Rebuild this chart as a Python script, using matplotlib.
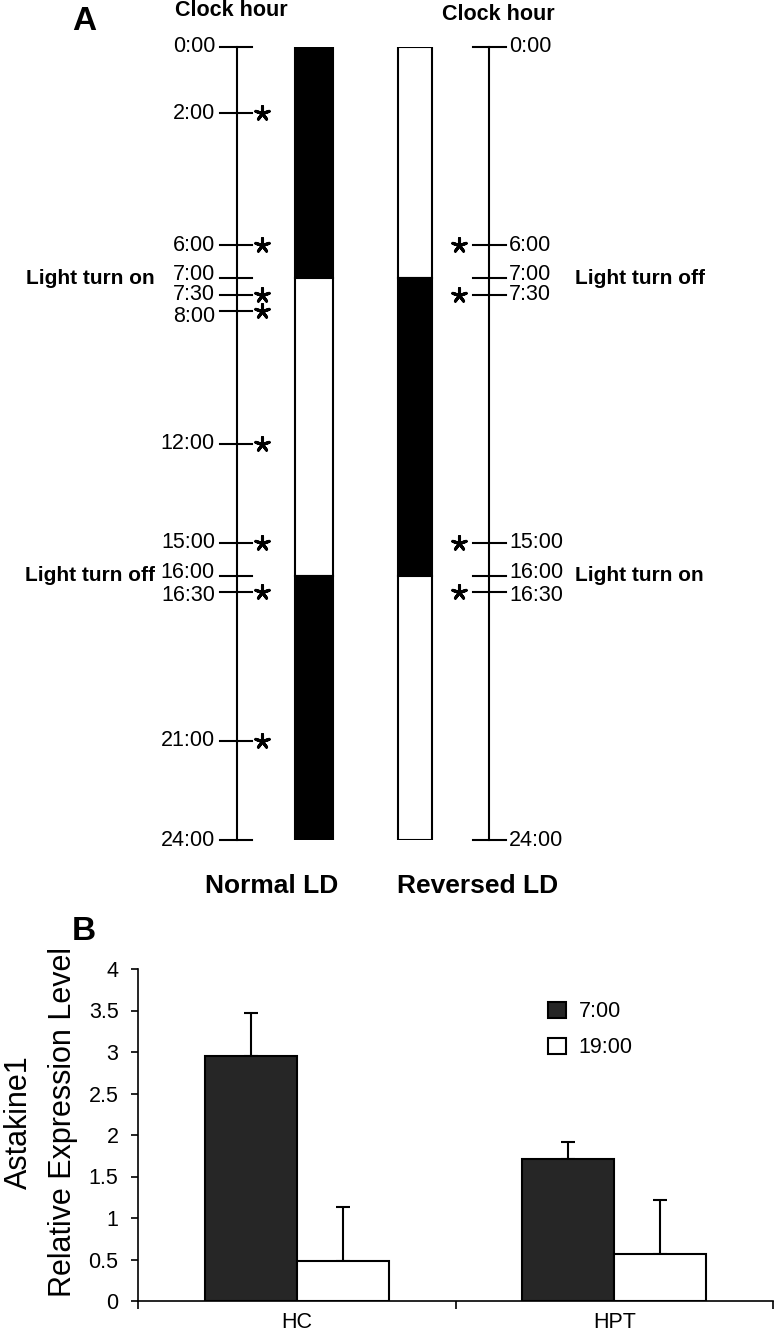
import matplotlib
matplotlib.use('Agg')
import matplotlib.pyplot as plt
from matplotlib.patches import Patch

plt.rcParams['font.family'] = ['Liberation Sans', 'DejaVu Sans']

# panel A: sampling times on the two light/dark schedules (clock hours)
normal_ticks = [0, 2, 6, 7, 7.5, 8, 12, 15, 16, 16.5, 21, 24]
normal_labels = ['0:00', '2:00', '6:00', '7:00', '7:30', '8:00', '12:00',
                 '15:00', '16:00', '16:30', '21:00', '24:00']
normal_sampled = [2, 6, 7.5, 8, 12, 15, 16.5, 21]

reversed_ticks = [0, 6, 7, 7.5, 15, 16, 16.5, 24]
reversed_labels = ['0:00', '6:00', '7:00', '7:30', '15:00', '16:00', '16:30', '24:00']
reversed_sampled = [6, 7.5, 15, 16.5]

# (start, end, dark?)
normal_phases = [(0, 7, True), (7, 16, False), (16, 24, True)]
reversed_phases = [(0, 7, False), (7, 16, True), (16, 24, False)]

# panel B: Astakine1 relative expression
groups = ['HC', 'HPT']
series_names = ['7:00', '19:00']
expr_700 = [2.95, 1.71]
err_700 = [0.52, 0.20]
expr_1900 = [0.48, 0.57]
err_1900 = [0.65, 0.65]

W, H = 774, 1336
fig = plt.figure(figsize=(W / 100, H / 100), dpi=100)


def fx(x):
    return x / W


def fy(y):
    return 1 - y / H


FS = 15.5
FSB = 15.5
star = (5, 2, 0)  # asterisk marker

# crowded labels are pushed a little apart, like in the original schematic
nudge = {7: -0.12, 8: 0.15, 16: -0.1, 16.5: 0.1}

# ---------------- panel A ----------------
top_px, bot_px = 47, 840
axA = fig.add_axes([0, fy(bot_px), 1, (bot_px - top_px) / H])
axA.set_xlim(0, W)
axA.set_ylim(24, 0)
axA.axis('off')

# left clock axis
axA.plot([237, 237], [0, 24], color='black', lw=1.5, clip_on=False)
for h, lab in zip(normal_ticks, normal_labels):
    axA.plot([220, 252], [h, h], color='black', lw=1.5, clip_on=False)
    axA.text(215, h + nudge.get(h, 0), lab, ha='right', va='center',
             fontsize=FS, clip_on=False)
axA.scatter([262] * len(normal_sampled), normal_sampled, marker=star, s=100,
            color='black', linewidths=2.2, clip_on=False)

# right clock axis
axA.plot([489, 489], [0, 24], color='black', lw=1.5, clip_on=False)
for h, lab in zip(reversed_ticks, reversed_labels):
    axA.plot([473, 506], [h, h], color='black', lw=1.5, clip_on=False)
    axA.text(509, h + nudge.get(h, 0), lab, ha='left', va='center',
             fontsize=FS, clip_on=False)
axA.scatter([459] * len(reversed_sampled), reversed_sampled, marker=star, s=100,
            color='black', linewidths=2.2, clip_on=False)

# light/dark columns
for start, end, dark in normal_phases:
    axA.bar(314, end - start, bottom=start, width=38,
            color='black' if dark else 'white', edgecolor='black', lw=1.5)
for start, end, dark in reversed_phases:
    axA.bar(415, end - start, bottom=start, width=34,
            color='black' if dark else 'white', edgecolor='black', lw=1.5)

axA.text(155, 7, 'Light turn on', ha='right', va='center', fontsize=15,
         fontweight='bold')
axA.text(155, 16, 'Light turn off', ha='right', va='center', fontsize=15,
         fontweight='bold')
axA.text(575, 7, 'Light turn off', ha='left', va='center', fontsize=15,
         fontweight='bold')
axA.text(575, 16, 'Light turn on', ha='left', va='center', fontsize=15,
         fontweight='bold')

fig.text(fx(231), fy(11), 'Clock hour', ha='center', va='center',
         fontsize=15.5, fontweight='bold')
fig.text(fx(498), fy(14), 'Clock hour', ha='center', va='center',
         fontsize=15.5, fontweight='bold')
fig.text(fx(272), fy(886), 'Normal LD', ha='center', va='center',
         fontsize=19, fontweight='bold')
fig.text(fx(478), fy(886), 'Reversed LD', ha='center', va='center',
         fontsize=19, fontweight='bold')
fig.text(fx(84), fy(21), 'A', ha='center', va='center', fontsize=24,
         fontweight='bold')
fig.text(fx(84), fy(931), 'B', ha='center', va='center', fontsize=24,
         fontweight='bold')

# ---------------- panel B ----------------
axB = fig.add_axes([fx(138), fy(1301), (773 - 138) / W, (1301 - 969) / H])
x = list(range(len(groups)))
bw = 0.29
x_dark = [i - bw / 2 for i in x]
x_light = [i + bw / 2 for i in x]
axB.bar(x_dark, expr_700, width=bw, color='#262626', edgecolor='black',
        lw=1.5, label=series_names[0], zorder=2)
axB.bar(x_light, expr_1900, width=bw, color='white', edgecolor='black',
        lw=1.5, label=series_names[1], zorder=2)
axB.errorbar(x_dark, expr_700, yerr=[[0] * len(x), err_700], fmt='none',
             ecolor='black', elinewidth=1.5, capsize=5, capthick=1.5, zorder=1)
axB.errorbar(x_light, expr_1900, yerr=[[0] * len(x), err_1900], fmt='none',
             ecolor='black', elinewidth=1.5, capsize=5, capthick=1.5, zorder=1)

axB.set_xlim(-0.5, 1.5)
axB.set_ylim(0, 4)
axB.set_yticks([0, 0.5, 1, 1.5, 2, 2.5, 3, 3.5, 4])
axB.set_yticklabels(['0', '0.5', '1', '1.5', '2', '2.5', '3', '3.5', '4'])
axB.set_xticks(x)
axB.set_xticklabels(groups)
axB.set_xticks([-0.5, 0.5, 1.5], minor=True)
axB.tick_params(axis='x', which='major', length=0, pad=8, labelsize=FSB)
axB.tick_params(axis='x', which='minor', length=6, width=1.2, direction='out')
axB.tick_params(axis='y', length=5, width=1.2, direction='out', pad=9,
                labelsize=FSB)
for s in ['top', 'right']:
    axB.spines[s].set_visible(False)
for s in ['left', 'bottom']:
    axB.spines[s].set_linewidth(1.2)

handles = [Patch(facecolor='#262626', edgecolor='black', lw=1.5),
           Patch(facecolor='white', edgecolor='black', lw=1.5)]
fig.legend(handles, series_names, loc='upper left',
           bbox_to_anchor=(fx(529), fy(982)), frameon=False, fontsize=FSB,
           handlelength=0.8, handleheight=0.8, handletextpad=0.6,
           labelspacing=0.7)

fig.text(fx(41), fy(1122), 'Astakine1\nRelative Expression Level',
         rotation=90, ha='center', va='center', multialignment='center',
         fontsize=22, linespacing=1.6)

fig.savefig('out.png', dpi=100)
